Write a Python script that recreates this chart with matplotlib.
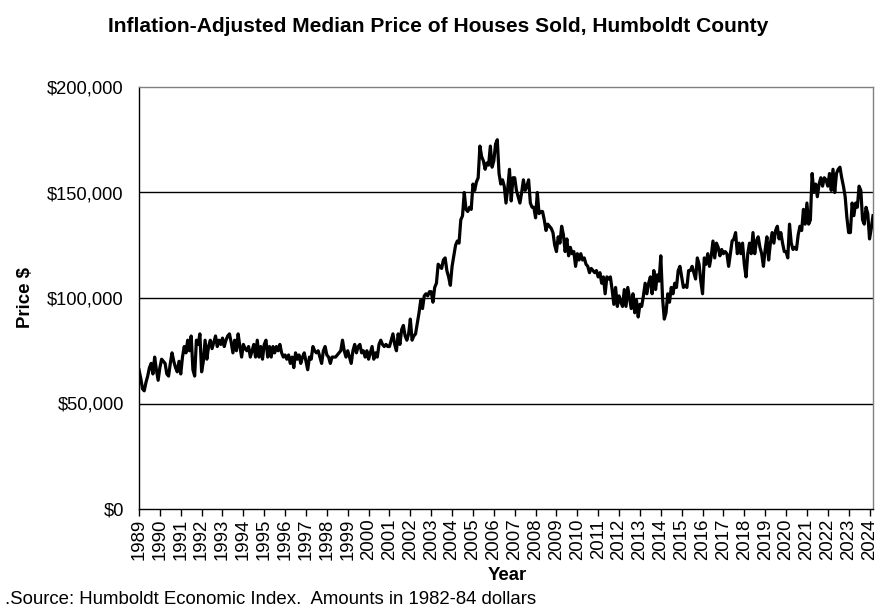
import matplotlib
matplotlib.use("Agg")
import matplotlib.pyplot as plt
from matplotlib.ticker import FuncFormatter
import numpy as np

plt.rcParams['font.family'] = ['Liberation Sans', 'DejaVu Sans']

start_year = 1989
# Monthly inflation-adjusted median price, thousands of 1982-84 dollars
prices = {
    1989: [66, 62, 57, 56, 60, 63, 67, 69, 64, 72, 66, 61],
    1990: [67, 71, 70, 69, 64, 63, 69, 74, 70, 67, 65, 70],
    1991: [64, 72, 77, 74, 80, 75, 82, 66, 63, 80, 78, 83],
    1992: [65, 70, 80, 71, 77, 80, 76, 79, 82, 77, 80, 78],
    1993: [81, 77, 80, 82, 83, 79, 74, 80, 75, 83, 77, 72],
    1994: [78, 76, 75, 77, 72, 75, 78, 72, 80, 72, 77, 71],
    1995: [78, 80, 72, 77, 72, 77, 74, 77, 75, 78, 74, 72],
    1996: [73, 71, 73, 69, 72, 67, 74, 71, 73, 69, 72, 74],
    1997: [70, 66, 72, 71, 77, 75, 74, 75, 72, 69, 75, 77],
    1998: [73, 72, 69, 72, 72, 72, 73, 74, 75, 80, 75, 72],
    1999: [75, 72, 69, 75, 78, 74, 77, 78, 74, 75, 72, 75],
    2000: [71, 74, 77, 71, 74, 72, 78, 80, 78, 77, 78, 77],
    2001: [77, 80, 83, 78, 75, 83, 78, 85, 87, 82, 80, 83],
    2002: [90, 80, 82, 83, 88, 93, 99, 95, 101, 102, 101, 103],
    2003: [103, 98, 105, 107, 116, 115, 114, 118, 119, 113, 110, 106],
    2004: [115, 120, 125, 127, 126, 137, 139, 150, 142, 141, 143, 142],
    2005: [154, 151, 155, 157, 172, 167, 165, 161, 164, 163, 172, 162],
    2006: [165, 173, 175, 159, 154, 156, 153, 145, 152, 161, 146, 157],
    2007: [157, 151, 148, 145, 150, 156, 151, 153, 156, 145, 143, 143],
    2008: [138, 150, 140, 141, 141, 137, 132, 135, 134, 133, 131, 125],
    2009: [122, 129, 126, 134, 130, 122, 128, 120, 124, 121, 122, 115],
    2010: [121, 118, 121, 118, 119, 116, 115, 112, 114, 113, 112, 113],
    2011: [110, 112, 107, 110, 102, 110, 109, 110, 104, 97, 105, 96],
    2012: [101, 98, 96, 104, 96, 105, 100, 95, 102, 93, 99, 91],
    2013: [97, 96, 101, 107, 102, 107, 110, 102, 113, 104, 111, 108],
    2014: [120, 100, 90, 93, 102, 98, 105, 102, 107, 105, 113, 115],
    2015: [110, 105, 106, 105, 113, 113, 115, 112, 109, 119, 116, 108],
    2016: [102, 119, 116, 121, 115, 120, 127, 119, 126, 124, 120, 123],
    2017: [121, 122, 121, 115, 121, 127, 128, 131, 121, 126, 121, 126],
    2018: [116, 110, 121, 126, 121, 131, 121, 127, 129, 124, 121, 115],
    2019: [123, 129, 118, 126, 131, 126, 132, 134, 128, 131, 126, 122],
    2020: [122, 119, 135, 126, 123, 124, 123, 130, 134, 132, 142, 135],
    2021: [145, 135, 137, 159, 150, 154, 148, 154, 157, 153, 157, 156],
    2022: [153, 159, 151, 161, 150, 159, 161, 162, 157, 153, 148, 138],
    2023: [131, 131, 145, 139, 145, 143, 153, 151, 137, 135, 143, 140],
    2024: [128, 133, 139],
}
year_ticks = list(range(1989, 2025))
y_ticks = [0, 50000, 100000, 150000, 200000]

values = []
for yr in sorted(prices):
    values.extend(prices[yr])
values = np.array(values, dtype=float) * 1000
t = start_year + np.arange(len(values)) / 12.0

fig = plt.figure(figsize=(8.85, 6.14), dpi=100)
ax = fig.add_axes([139/885, 1-509/614, (873-139)/885, (509-87)/614])

for v in y_ticks[1:-1]:
    ax.axhline(v, color='black', lw=1.0, zorder=1)
ax.plot(t, values, color='black', lw=2.3, zorder=3, solid_joinstyle='round')

ax.set_xlim(t[0], t[-1])
ax.set_ylim(0, 200000)
ax.set_yticks(y_ticks)
ax.yaxis.set_major_formatter(FuncFormatter(lambda v, p: f"${int(v):,}"))
ax.set_xticks(year_ticks)
ax.set_xticklabels([str(y) for y in year_ticks], rotation=90)
ax.tick_params(axis='y', length=0, pad=11, labelsize=13.2)
ax.tick_params(axis='x', direction='out', length=5, width=1, pad=2, labelsize=13.4)

for s in ['top', 'right']:
    ax.spines[s].set_color('#808080')
    ax.spines[s].set_linewidth(1.0)
for s in ['left', 'bottom']:
    ax.spines[s].set_color('black')
    ax.spines[s].set_linewidth(1.0)

fig.text(438.5/885, 1-26/614, "Inflation-Adjusted Median Price of Houses Sold, Humboldt County",
         ha='center', va='center', fontsize=15.1, fontweight='bold')
fig.text(507/885, 1-575/614, "Year", ha='center', va='center', fontsize=13.4, fontweight='bold')
fig.text(25/885, 1-298/614, "Price $", ha='center', va='center', rotation=90,
         fontsize=13.4, fontweight='bold')
fig.text(5/885, 1-600/614, ".Source: Humboldt Economic Index.  Amounts in 1982-84 dollars",
         ha='left', va='center', fontsize=13.4)

fig.savefig("out.png", dpi=100)
